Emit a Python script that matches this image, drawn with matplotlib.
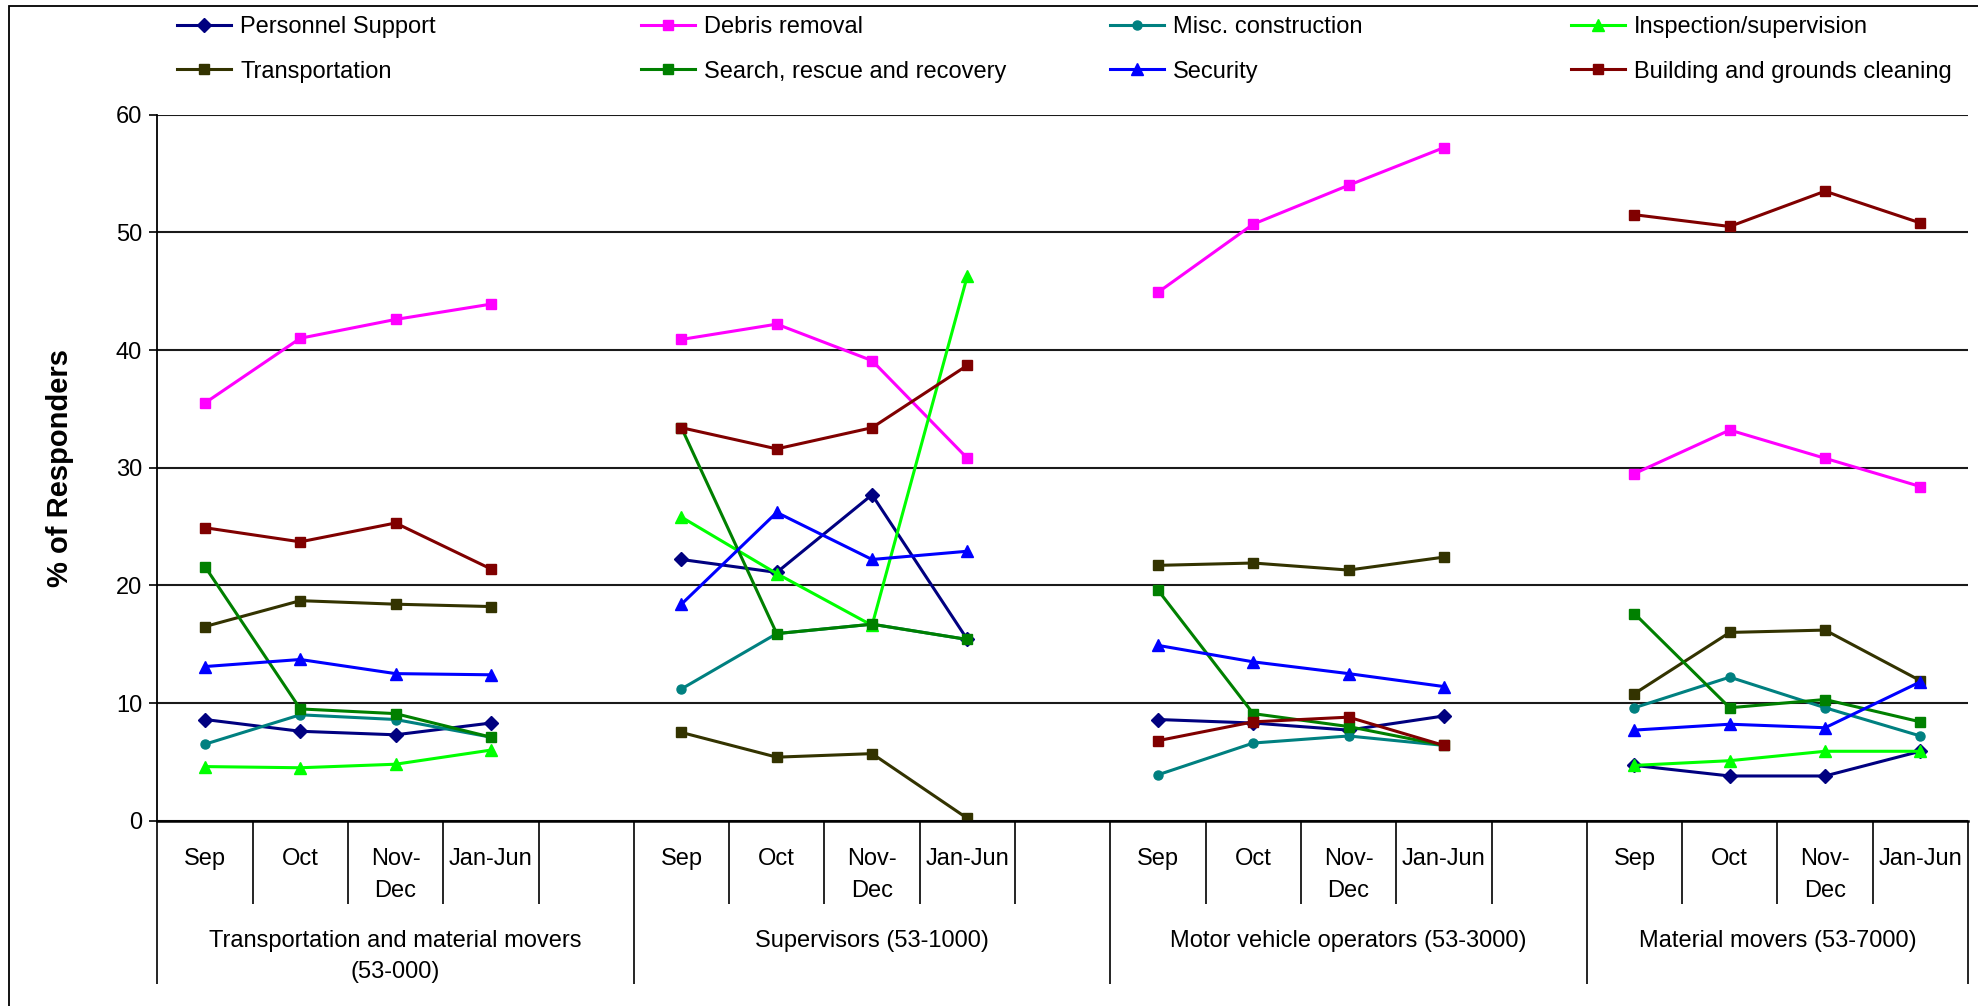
import matplotlib.pyplot as plt
import numpy as np
from matplotlib.patches import Rectangle

plt.rcParams['font.family'] = ['Liberation Sans', 'DejaVu Sans']

nan = np.nan

periods = ['Sep', 'Oct', 'Nov-\nDec', 'Jan-Jun']
groups = ['Transportation and material movers\n(53-000)', 'Supervisors (53-1000)',
          'Motor vehicle operators (53-3000)', 'Material movers (53-7000)']
# empty category slot after each group except the last one
group_slots = [5, 5, 5, 4]

# 4 values per group, groups in the order above
personnel_support = [8.6, 7.6, 7.3, 8.3, 22.2, 21.1, 27.7, 15.4, 8.6, 8.3, 7.7, 8.9, 4.7, 3.8, 3.8, 5.9]
debris_removal = [35.5, 41.0, 42.6, 43.9, 40.9, 42.2, 39.1, 30.8, 44.9, 50.7, 54.0, 57.2, 29.5, 33.2, 30.8, 28.4]
misc_construction = [6.5, 9.0, 8.6, 7.1, 11.2, 15.9, 16.7, 15.4, 3.9, 6.6, 7.2, 6.4, 9.6, 12.2, 9.6, 7.2]
inspection = [4.6, 4.5, 4.8, 6.0, 25.8, 21.0, 16.6, 46.3, nan, nan, nan, nan, 4.7, 5.1, 5.9, 5.9]
transportation = [16.5, 18.7, 18.4, 18.2, 7.5, 5.4, 5.7, 0.2, 21.7, 21.9, 21.3, 22.4, 10.8, 16.0, 16.2, 11.9]
search_rescue = [21.6, 9.5, 9.1, 7.1, 33.4, 15.9, 16.7, 15.4, 19.6, 9.1, 8.0, 6.4, 17.6, 9.6, 10.3, 8.4]
security = [13.1, 13.7, 12.5, 12.4, 18.4, 26.2, 22.2, 22.9, 14.9, 13.5, 12.5, 11.4, 7.7, 8.2, 7.9, 11.8]
building_cleaning = [24.9, 23.7, 25.3, 21.4, 33.4, 31.6, 33.4, 38.7, 6.8, 8.4, 8.8, 6.4, 51.5, 50.5, 53.5, 50.8]

series = [
    ('Personnel Support', personnel_support, '#000080', 'D', 7),
    ('Debris removal', debris_removal, '#FF00FF', 's', 7.5),
    ('Misc. construction', misc_construction, '#008080', 'o', 6.5),
    ('Inspection/supervision', inspection, '#00FF00', '^', 8.5),
    ('Transportation', transportation, '#333300', 's', 7.5),
    ('Search, rescue and recovery', search_rescue, '#008000', 's', 7.5),
    ('Security', security, '#0000FF', '^', 8.5),
    ('Building and grounds cleaning', building_cleaning, '#800000', 's', 7.5),
]

W, H = 1978, 1006
fig = plt.figure(figsize=(W / 100, H / 100), dpi=100)
ax_l, ax_r, ax_t, ax_b = 157.3, 1968, 114.7, 820.7
ax = fig.add_axes([ax_l / W, 1 - ax_b / H, (ax_r - ax_l) / W, (ax_b - ax_t) / H])
ax_h = ax_b - ax_t

# x position of every period, with a gap (nan) between groups
starts = np.cumsum([0] + group_slots[:-1])
xs = []
for g, s in enumerate(starts):
    xs += [s + p + 0.5 for p in range(len(periods))]
    if g < len(groups) - 1:
        xs.append(nan)
xs = np.array(xs)


def with_gaps(vals):
    out = []
    for g in range(len(groups)):
        out += vals[g * 4:(g + 1) * 4]
        if g < len(groups) - 1:
            out.append(nan)
    return np.array(out)


handles = []
for label, vals, color, marker, ms in series:
    line, = ax.plot(xs, with_gaps(vals), color=color, lw=2.2, marker=marker,
                    markersize=ms, markeredgecolor=color, label=label)
    handles.append(line)

total = sum(group_slots)
ax.set_xlim(0, total)
ax.set_ylim(0, 60)
ax.set_yticks(range(0, 61, 10))
ax.yaxis.grid(True, color='#1a1a1a', lw=1.5)
ax.set_axisbelow(True)
for side in ['top', 'right']:
    ax.spines[side].set_visible(False)
ax.spines['left'].set_linewidth(1.3)
ax.spines['bottom'].set_linewidth(1.8)
ax.tick_params(axis='y', labelsize=17, length=6, width=1.2, pad=5)

# category axis: long lines at group edges, short ones between periods
group_edges = list(np.cumsum([0] + group_slots))
inner = [i for i in range(1, total) if i not in group_edges]
ax.set_xticks(group_edges)
ax.set_xticklabels([])
ax.set_xticks(inner, minor=True)
ax.tick_params(axis='x', which='major', length=117.5, width=1.2, color='black')
ax.tick_params(axis='x', which='minor', length=60, width=1.2, color='black')

tr = ax.get_xaxis_transform()
for s in starts:
    for p, name in enumerate(periods):
        ax.text(s + p + 0.5, -27 / ax_h, name, transform=tr, ha='center', va='top',
                fontsize=17, linespacing=1.58)
for g, name in enumerate(groups):
    mid = (group_edges[g] + group_edges[g + 1]) / 2
    ax.text(mid, -109 / ax_h, name, transform=tr, ha='center', va='top',
            fontsize=17, linespacing=1.55)

ax.text(-(ax_l - 60) / (ax_r - ax_l), 0.5, '% of Responders', transform=ax.transAxes,
        rotation=90, ha='center', va='center', fontsize=21, fontweight='bold')

# legend: four columns of two rows, equal column widths
col_x = [177, 641, 1110, 1571]
for c, x in enumerate(col_x):
    fig.legend(handles=[handles[c], handles[c + 4]], loc='center left',
               bbox_to_anchor=(x / W, 1 - 49.5 / H), frameon=False, borderpad=0,
               borderaxespad=0, handlelength=2.3, handletextpad=0.38,
               labelspacing=0.95, fontsize=17)

fig.add_artist(Rectangle((9 / W, -0.05), 1.2, 1.05 - 6 / H, transform=fig.transFigure,
                         fill=False, ec='black', lw=1.3))

fig.savefig('out.png', dpi=100)
